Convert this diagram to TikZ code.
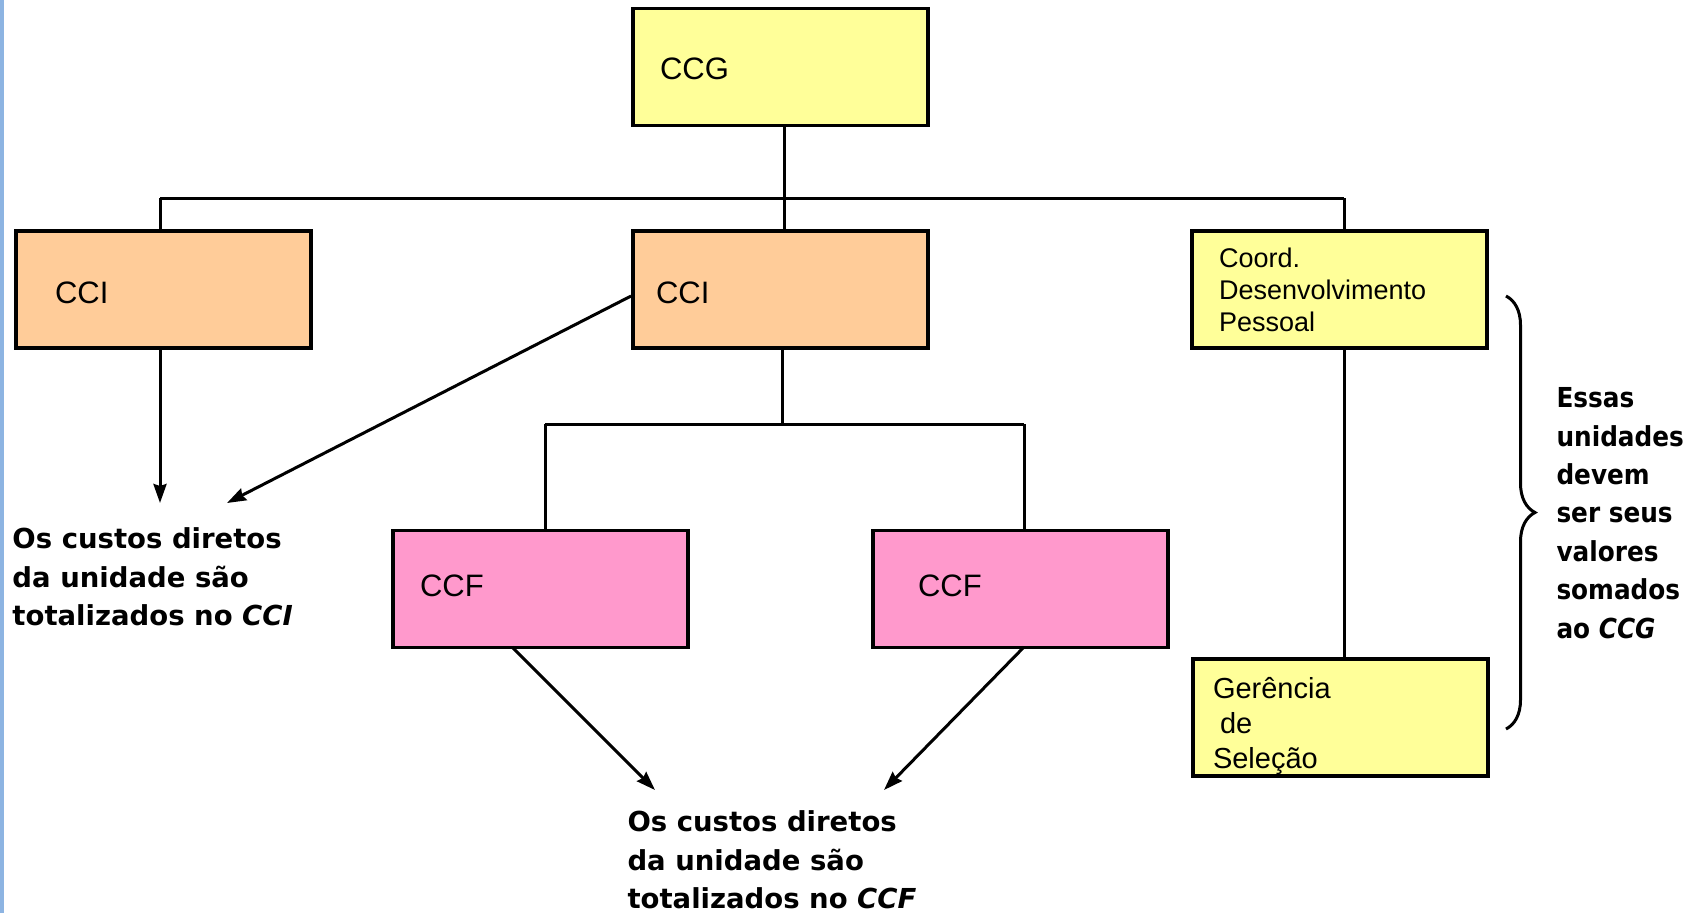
\documentclass[tikz,border=0pt]{standalone}
\usepackage{fontspec}
\setmainfont{Liberation Sans}
\newfontfamily\notefont{DejaVu Sans}
\newfontfamily\notefontn{DejaVu Sans}[FakeStretch=0.9]
\usetikzlibrary{arrows.meta,decorations.pathreplacing}
\definecolor{cyel}{HTML}{FFFF99}
\definecolor{corange}{HTML}{FFCC99}
\definecolor{cpink}{HTML}{FF99CC}
\definecolor{cstrip}{HTML}{8DB4E2}
\begin{document}
\begin{tikzpicture}[x=1pt,y=-1pt,line width=3pt,
  box/.style={draw=black,line width=3.8pt,minimum height=117pt,align=left,inner ysep=0pt},
  bigtxt/.style={font=\fontsize{31}{37}\selectfont},
  arr/.style={-{Stealth[length=19pt,width=13pt,inset=2pt]}},
  note/.style={align=left,anchor=west,inner sep=0pt,font=\notefont\bfseries\fontsize{27.5}{38.4}\selectfont},
  bracestyle/.style={decorate,decoration={brace,amplitude=29pt}}]
\useasboundingbox (0,0) rectangle (1695,913);
\fill[cstrip] (0,0) rectangle (4,913);
% boxes
\node[box,bigtxt,fill=cyel,inner xsep=27pt,text width=241pt,text height=26pt] (CCG) at (780.5,67) {CCG};
\node[box,bigtxt,fill=corange,inner xsep=39pt,text width=217pt,text height=29pt] (CCIa) at (163.5,289.5) {CCI};
\node[box,bigtxt,fill=corange,inner xsep=23pt,text width=249pt,text height=29pt] (CCIb) at (780.5,289.5) {CCI};
\node[box,fill=cyel,inner xsep=27pt,text width=241pt,font=\fontsize{27}{32}\selectfont] (Coord) at (1339.5,289.5) {Coord.\\Desenvolvimento\\Pessoal};
\node[box,fill=cyel,inner xsep=20pt,text width=255pt,text height=21pt,text depth=60pt,font=\fontsize{29}{35}\selectfont] (Ger) at (1340.5,717.5) {Gerência\\\hspace*{7pt}de\\Seleção};
\node[box,bigtxt,fill=cpink,inner xsep=27pt,text width=241pt,text height=22pt,text depth=8pt] (CCFa) at (540.5,589) {CCF};
\node[box,bigtxt,fill=cpink,inner xsep=45pt,text width=205pt,text height=22pt,text depth=8pt] (CCFb) at (1020.5,589) {CCF};
% notes
\node[note] (noteI) at (11,577) {Os custos diretos\\da unidade são\\totalizados no \textit{CCI}};
\node[note] (noteF) at (626,860) {Os custos diretos\\da unidade são\\totalizados no \textit{CCF}};
\node[note,font=\notefontn\bfseries\fontsize{27.5}{38.4}\selectfont] (noteG) at (1555,513) {Essas\\unidades\\devem\\ser seus\\valores\\somados\\ao \textit{CCG}};
% junction coordinates
\coordinate (busL) at (160,198);
\coordinate (busM) at (784,198);
\coordinate (busR) at (1344,198);
\coordinate (brM) at (782,424);
\coordinate (brL) at (545,424);
\coordinate (brR) at (1024,424);
\coordinate (tipA) at (160,503);
\coordinate (tipB) at (227,503);
\coordinate (tipC) at (655,790);
\coordinate (tipD) at (884,790);
\coordinate (srcC) at (512,647);
\coordinate (srcD) at (1024,647);
\coordinate (braceT) at (1506,296);
\coordinate (braceB) at (1506,729);
% tree lines
\draw (CCG.south -| busM) -- (busM);
\draw (busL) -- (busR);
\draw (busL) -- (busL |- CCIa.north);
\draw (busM) -- (busM |- CCIb.north);
\draw (busR) -- (busR |- Coord.north);
\draw (CCIb.south -| brM) -- (brM);
\draw (brL) -- (brR);
\draw (brL) -- (brL |- CCFa.north);
\draw (brR) -- (brR |- CCFb.north);
\draw (Coord.south -| busR) -- (busR |- Ger.north);
% arrows
\draw[arr] (CCIa.south -| tipA) -- (tipA);
\draw[arr] ([yshift=-6.5pt]CCIb.west) -- (tipB);
\draw[arr] (srcC) -- (tipC);
\draw[arr] (srcD) -- (tipD);
% brace
\draw[bracestyle] (braceT) -- (braceB);
\end{tikzpicture}
\end{document}
